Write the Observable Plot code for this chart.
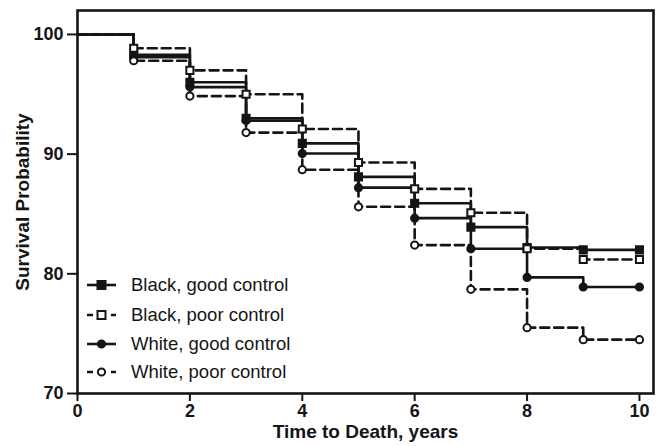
<!DOCTYPE html>
<html>
<head>
<meta charset="utf-8">
<script src="https://cdn.jsdelivr.net/npm/d3@7"></script>
<script src="https://cdn.jsdelivr.net/npm/@observablehq/plot@0.6"></script>
<style>
  html, body { margin: 0; padding: 0; background: #fff; }
  #chart { width: 659px; height: 446px; }
</style>
</head>
<body>
<div id="chart"></div>
<script>
// Data
const times = [0, 1, 2, 3, 4, 5, 6, 7, 8, 9, 10];
const blackGood = [100, 98.3, 96.0, 93.0, 90.9, 88.1, 85.9, 83.9, 82.2, 82.0, 82.0];
const blackPoor = [100, 98.85, 97.0, 95.0, 92.1, 89.3, 87.1, 85.1, 82.1, 81.2, 81.2];
const whiteGood = [100, 98.1, 95.6, 92.8, 90.05, 87.2, 84.65, 82.1, 79.7, 78.9, 78.9];
const whitePoor = [100, 97.8, 94.85, 91.8, 88.7, 85.6, 82.4, 78.7, 75.5, 74.5, 74.5];
const seriesNames = ["Black, good control", "Black, poor control", "White, good control", "White, poor control"];
const xTicks = [0, 2, 4, 6, 8, 10];
const yTicks = [70, 80, 90, 100];
const xTitle = "Time to Death, years";
const yTitle = "Survival Probability";

const ink = "#151515";
const styles = [
  {values: blackGood, dash: null, symbol: "square", fill: ink, r: 4},
  {values: blackPoor, dash: "9,5", symbol: "square", fill: "white", r: 4},
  {values: whiteGood, dash: null, symbol: "circle", fill: ink, r: 3.6},
  {values: whitePoor, dash: "9,5", symbol: "circle", fill: "white", r: 3.6}
];

const rows = styles.map((s, k) => ({name: seriesNames[k], ...s,
  pts: times.map((t, i) => ({t, v: s.values[i]}))}));

const marks = [];
rows.forEach(r => {
  marks.push(Plot.line(r.pts, {x: "t", y: "v", curve: "step-after", stroke: ink,
    strokeWidth: 2.6, strokeDasharray: r.dash || undefined}));
});
rows.forEach(r => {
  marks.push(Plot.dot(r.pts.filter(d => d.t > 0), {x: "t", y: "v", symbol: r.symbol,
    r: r.r, fill: r.fill, stroke: ink, strokeWidth: 2}));
});

const fontFamily = "'Liberation Sans', Arial, sans-serif";

const svg = Plot.plot({
  width: 659, height: 446,
  marginLeft: 77, marginRight: 6, marginTop: 10, marginBottom: 53,
  style: {fontFamily, background: "white", color: ink},
  x: {domain: [0, 10.25]},
  y: {domain: [70, 102]},
  marks: [
    Plot.frame({stroke: ink, strokeWidth: 2.6}),
    Plot.axisX({ticks: xTicks, tickSize: 8, tickPadding: 3, label: null, fontSize: 18, fontWeight: "bold", strokeWidth: 2}),
    Plot.axisY({ticks: yTicks, tickSize: 10, tickPadding: 4, label: null, fontSize: 18, fontWeight: "bold", strokeWidth: 2}),
    ...marks,
    Plot.text([xTitle], {text: d => d, frameAnchor: "bottom", dy: 44, fontSize: 19, fontWeight: "bold", fill: ink}),
    Plot.text([yTitle], {text: d => d, frameAnchor: "left", textAnchor: "middle", dx: -55, rotate: -90, fontSize: 19, fontWeight: "bold", fill: ink})
  ]
});

// Legend inside the plot area (lower left)
const g = d3.select(svg).append("g").attr("class", "legend").attr("text-anchor", "start");
const rowY = [285, 315, 344, 372];
rows.forEach((r, k) => {
  const y = rowY[k];
  g.append("line").attr("x1", 87).attr("x2", 116).attr("y1", y).attr("y2", y)
    .attr("stroke", ink).attr("stroke-width", 2.6)
    .attr("stroke-dasharray", r.dash ? "6,6" : null);
  if (r.symbol === "square") {
    g.append("rect").attr("x", 101.5 - r.r).attr("y", y - r.r).attr("width", 2 * r.r).attr("height", 2 * r.r)
      .attr("fill", r.fill).attr("stroke", ink).attr("stroke-width", 2);
  } else {
    g.append("circle").attr("cx", 101.5).attr("cy", y).attr("r", r.r)
      .attr("fill", r.fill).attr("stroke", ink).attr("stroke-width", 2);
  }
  g.append("text").attr("x", 131).attr("y", y).attr("dy", "0.35em").attr("text-anchor", "start")
    .attr("font-size", 18.5).attr("font-family", fontFamily).attr("fill", ink).text(r.name);
});

document.getElementById("chart").appendChild(svg);
</script>
</body>
</html>
